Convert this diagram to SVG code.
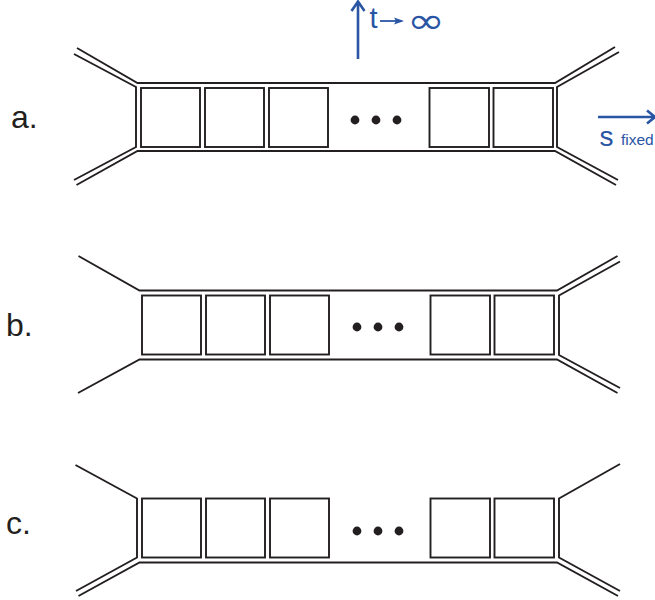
<svg xmlns="http://www.w3.org/2000/svg" width="655" height="600" viewBox="0 0 655 600">
<style>
.k{fill:none;stroke:#231f20;stroke-width:1.9;stroke-linejoin:miter}
.d{fill:#231f20}
.l{font-family:"Liberation Sans",Arial,sans-serif;font-size:32px;fill:#231f20}
.b{fill:none;stroke:#2a55a5;stroke-width:2.6}
.bt{font-family:"Liberation Sans",Arial,sans-serif;fill:#2a55a5}
</style>
<defs>
<g id="boxes"><rect class="k" x="0" y="0" width="59" height="59"/><rect class="k" x="64" y="0" width="59" height="59"/><rect class="k" x="128" y="0" width="59" height="59"/><rect class="k" x="288.500" y="0" width="59.500" height="59"/><rect class="k" x="352.500" y="0" width="59.500" height="59"/></g>
<g id="dots"><circle class="d" cx="0" cy="0" r="4.400"/><circle class="d" cx="21" cy="0" r="4.400"/><circle class="d" cx="42" cy="0" r="4.400"/></g>
</defs>
<g id="diagram-a">
<text class="l" x="11" y="128">a.</text>
<use href="#boxes" x="141" y="88"/><use href="#dots" x="355" y="120"/>
</g>
<g id="diagram-b">
<text class="l" x="6" y="336">b.</text>
<use href="#boxes" x="142" y="295.500"/><use href="#dots" x="357" y="327"/>
</g>
<g id="diagram-c">
<text class="l" x="6" y="534">c.</text>
<use href="#boxes" x="142" y="498.500"/><use href="#dots" x="357" y="531"/>
</g>
<g id="connectors">
<path class="k" d="M77 48L137.500 83H555L615 47M74 54L136 87V147L74 180M76.500 185L137.500 151H555L616 185M619 52L557 87V147L618 180"/>
<path class="k" d="M78.500 256L139.500 290.500H557L617.500 256M78 393L139.500 359.500H557L617.500 393M620 261.500L559 295.500V355L620 388"/>
<path class="k" d="M75.500 465L137 498.500V557.500L76 591M78.500 596L139.500 562.500H557L618 596M620 464L559 498.500V557.500L620 591"/>
</g>
<g id="annotations">
<path class="b" d="M358 59V2M351.500 11L358 1.500L364.500 11"/>
<text class="bt" x="369.500" y="28" font-size="29">t</text>
<path class="b" style="stroke-width:1.800" d="M380 21H402"/><path d="M404 21L394 17.500L396 21L394 24.500Z" fill="#2a55a5"/>
<text class="bt" style="font-family:'DejaVu Sans',sans-serif" transform="translate(426 21.500) scale(1.34 1.05)" text-anchor="middle" x="0" y="11.200" font-size="34">∞</text>
<path class="b" d="M598 117H654M647 110.500L655 117L647 123.500"/>
<text class="bt" x="599.500" y="146" font-size="28">s</text>
<text class="bt" x="621" y="145" font-size="15.500">fixed</text>
</g>
</svg>
